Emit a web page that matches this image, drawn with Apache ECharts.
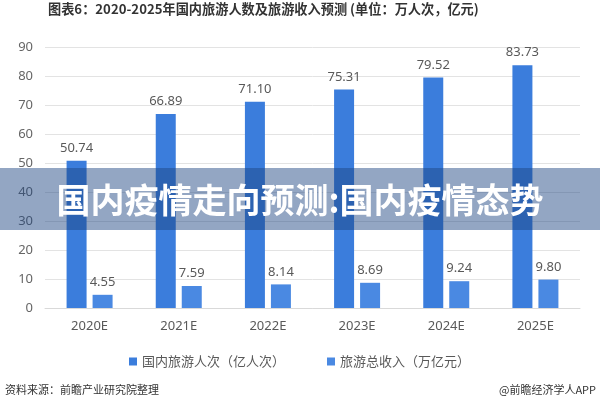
<!DOCTYPE html>
<html>
<head>
<meta charset="utf-8">
<script src="https://cdn.jsdelivr.net/npm/echarts@6/dist/echarts.min.js"></script>
<style>html,body{margin:0;padding:0;background:#fff}#c{width:600px;height:400px}</style>
</head>
<body>
<div id="c"></div>
<script>
var categories = ['2020E','2021E','2022E','2023E','2024E','2025E'];
var tourists = [50.74, 66.89, 71.10, 75.31, 79.52, 83.73];
var revenue = [4.55, 7.59, 8.14, 8.69, 9.24, 9.80];
var seriesNames = ['国内旅游人次（亿人次）', '旅游总收入（万亿元）'];
var yTicks = {min: 0, max: 90, interval: 10};

var font = '"Noto Sans CJK SC", "Noto Sans", sans-serif';
var chart = echarts.init(document.getElementById('c'), null, {renderer: 'canvas'});
chart.setOption({
  animation: false,
  textStyle: {fontFamily: font},
  title: {
    text: '图表6：2020-2025年国内旅游人数及旅游收入预测 (单位：万人次，亿元)',
    left: 43, top: -3,
    textStyle: {fontSize: 13.2, fontWeight: 'bold', color: '#333', fontFamily: font}
  },
  grid: {left: 45, right: 20, top: 47, bottom: 92, containLabel: false},
  legend: {
    left: 124, top: 350, itemWidth: 8, itemHeight: 8, itemGap: 42,
    icon: 'rect',
    textStyle: {fontSize: 13, color: '#595959', fontFamily: font},
    data: seriesNames
  },
  xAxis: {
    type: 'category', data: categories,
    axisLine: {lineStyle: {color: '#d9d9d9'}},
    axisTick: {show: false},
    axisLabel: {color: '#595959', fontSize: 13, margin: 12, fontFamily: '"Noto Sans", sans-serif'}
  },
  yAxis: {
    type: 'value', min: yTicks.min, max: yTicks.max, interval: yTicks.interval,
    axisLine: {show: false}, axisTick: {show: false},
    splitLine: {lineStyle: {color: '#e3e3e3'}},
    axisLabel: {color: '#666', fontSize: 13, margin: 12, fontFamily: '"Noto Sans", sans-serif'}
  },
  series: [
    {
      name: seriesNames[0], type: 'bar', data: tourists, barWidth: 20, barGap: '30%',
      itemStyle: {color: '#3b7ddc'},
      label: {show: true, position: 'top', distance: 6, color: '#595959', fontSize: 13, fontFamily: '"Noto Sans", sans-serif', formatter: function(p){return p.value.toFixed(2);}}
    },
    {
      name: seriesNames[1], type: 'bar', data: revenue, barWidth: 20,
      itemStyle: {color: '#4a89e2'},
      label: {show: true, position: 'top', distance: 6, color: '#595959', fontSize: 13, fontFamily: '"Noto Sans", sans-serif', formatter: function(p){return p.value.toFixed(2);}}
    }
  ],
  graphic: [
    {type: 'rect', shape: {x: 0, y: 168, width: 600, height: 62}, style: {fill: 'rgba(30,68,130,0.48)'}, z: 100},
    {type: 'text', x: 300, y: 200, z: 101, style: {text: '国内疫情走向预测:国内疫情态势', fill: '#fff', fontSize: 34, fontWeight: 'bold', fontFamily: font, align: 'center', verticalAlign: 'middle'}},
    {type: 'text', left: 5, top: 384, style: {text: '资料来源：前瞻产业研究院整理', fill: '#333', fontSize: 11, fontFamily: font}},
    {type: 'text', right: 4, top: 384, style: {text: '@前瞻经济学人APP', fill: '#333', fontSize: 11, fontFamily: font}}
  ]
});
</script>
</body>
</html>
